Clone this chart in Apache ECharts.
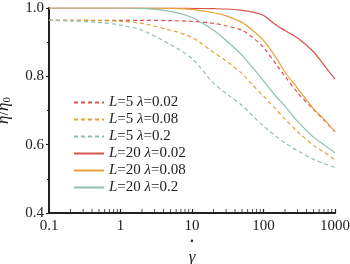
<!DOCTYPE html>
<html>
<head>
<meta charset="utf-8">
<script src="https://cdn.jsdelivr.net/npm/echarts@6/dist/echarts.min.js"></script>
<style>
  html, body { margin: 0; padding: 0; background: #fff; }
  #chart { width: 350px; height: 264px; }
</style>
</head>
<body>
<div id="chart"></div>
<script>
// shear rate values (x)
const shearRates = [0.1, 0.2, 0.5, 1, 2, 5, 10, 20, 30, 50, 70, 100, 150, 200, 300, 500, 700, 1000];

// eta / eta0
const l5lam002 = [0.964, 0.964, 0.964, 0.964, 0.964, 0.963, 0.961, 0.955, 0.948, 0.935, 0.914, 0.885, 0.835, 0.800, 0.752, 0.703, 0.672, 0.638];
const l5lam008 = [0.964, 0.964, 0.963, 0.961, 0.955, 0.935, 0.914, 0.870, 0.845, 0.808, 0.775, 0.742, 0.703, 0.675, 0.638, 0.598, 0.578, 0.556];
const l5lam02 = [0.964, 0.962, 0.958, 0.950, 0.935, 0.893, 0.852, 0.780, 0.750, 0.715, 0.685, 0.655, 0.624, 0.605, 0.582, 0.557, 0.545, 0.533];
const l20lam002 = [1.0, 1.0, 1.0, 1.0, 1.0, 1.0, 0.999, 0.998, 0.997, 0.993, 0.988, 0.978, 0.950, 0.934, 0.912, 0.872, 0.833, 0.792];
const l20lam008 = [1.0, 1.0, 1.0, 1.0, 1.0, 0.999, 0.996, 0.986, 0.977, 0.958, 0.935, 0.905, 0.855, 0.812, 0.765, 0.705, 0.675, 0.638];
const l20lam02 = [1.0, 1.0, 1.0, 1.0, 0.999, 0.990, 0.972, 0.935, 0.905, 0.862, 0.826, 0.787, 0.741, 0.713, 0.668, 0.622, 0.600, 0.576];

// minor log ticks on the x axis
const xMinorTicks = [0.2, 0.3, 0.4, 0.5, 0.6, 0.7, 0.8, 0.9, 2, 3, 4, 5, 6, 7, 8, 9,
  20, 30, 40, 50, 60, 70, 80, 90, 200, 300, 400, 500, 600, 700, 800, 900];
const yMin = 0.4;

const seriesNames = ["L5_002", "L5_008", "L5_02", "L20_002", "L20_008", "L20_02"];
const seriesLabels = {
  L5_002: "{i|L}=5 {i|λ}=0.02",
  L5_008: "{i|L}=5 {i|λ}=0.08",
  L5_02: "{i|L}=5 {i|λ}=0.2",
  L20_002: "{i|L}=20 {i|λ}=0.02",
  L20_008: "{i|L}=20 {i|λ}=0.08",
  L20_02: "{i|L}=20 {i|λ}=0.2",
};

const RED = "#d8534c";
const ORANGE = "#e7a239";
const TEAL = "#8fbfb1";
const FONT = "Liberation Serif";

function pairs(ys) {
  return shearRates.map((x, i) => [x, ys[i]]);
}

function makeSeries(name, ys, color, dashed) {
  return {
    name: name,
    type: "line",
    data: pairs(ys),
    smooth: 0.3,
    symbol: "none",
    lineStyle: {
      color: color,
      width: 1.2,
      type: dashed ? [4, 3] : "solid",
    },
    itemStyle: { color: color },
    animation: false,
  };
}

const chart = echarts.init(document.getElementById("chart"));

chart.setOption({
  animation: false,
  grid: {
    left: 49,
    right: 15,
    top: 8,
    bottom: 51,
    outerBoundsMode: "none",
    containLabel: false,
  },
  legend: {
    data: seriesNames,
    orient: "vertical",
    left: 68,
    top: 90,
    itemWidth: 30,
    itemHeight: 10,
    itemGap: 2,
    itemStyle: { opacity: 0 },
    formatter: (name) => seriesLabels[name],
    textStyle: {
      fontFamily: FONT,
      fontSize: 15,
      color: "#222",
      rich: {
        i: { fontFamily: FONT, fontSize: 15, fontStyle: "italic", color: "#222" },
      },
    },
  },
  xAxis: {
    type: "log",
    logBase: 10,
    min: 0.1,
    max: 1000,
    name: "{d|˙}\n{g|γ}",
    nameLocation: "middle",
    nameGap: 30,
    nameTextStyle: {
      fontFamily: FONT,
      fontSize: 16,
      color: "#222",
      verticalAlign: "top",
      rich: {
        d: { fontFamily: FONT, fontSize: 16, fontWeight: "bold", color: "#222", lineHeight: 7 },
        g: { fontFamily: FONT, fontSize: 17, fontStyle: "italic", color: "#222", lineHeight: 14 },
      },
    },
    axisLine: { onZero: false, lineStyle: { color: "#222", width: 2 } },
    axisTick: { inside: true, length: 4, lineStyle: { color: "#222", width: 1.2 } },
    axisLabel: {
      fontFamily: FONT,
      fontSize: 15,
      color: "#222",
      margin: 6,
      formatter: (v) => String(v),
    },
    splitLine: { show: false },
  },
  yAxis: {
    type: "value",
    min: yMin,
    max: 1.0,
    interval: 0.2,
    name: "{i|η}/{i|η}{s|0}",
    nameLocation: "middle",
    nameGap: 36,
    nameRotate: 90,
    nameTextStyle: {
      fontFamily: FONT,
      fontSize: 16,
      color: "#222",
      rich: {
        i: { fontFamily: FONT, fontSize: 17, fontStyle: "italic", color: "#222" },
        s: { fontFamily: FONT, fontSize: 11, color: "#222", verticalAlign: "bottom", padding: [8, 0, 0, 0] },
      },
    },
    axisLine: { show: true, onZero: false, lineStyle: { color: "#222", width: 2 } },
    axisTick: { show: true, length: 3, lineStyle: { color: "#222", width: 1.2 } },
    minorTick: { show: true, splitNumber: 2, length: 2, lineStyle: { color: "#222", width: 1 } },
    axisLabel: {
      fontFamily: FONT,
      fontSize: 15,
      color: "#222",
      margin: 5,
      formatter: (v) => v.toFixed(1),
    },
    splitLine: { show: false },
  },
  series: [
    makeSeries("L5_002", l5lam002, RED, true),
    makeSeries("L5_008", l5lam008, ORANGE, true),
    makeSeries("L5_02", l5lam02, TEAL, true),
    makeSeries("L20_002", l20lam002, RED, false),
    makeSeries("L20_008", l20lam008, ORANGE, false),
    makeSeries("L20_02", l20lam02, TEAL, false),
    {
      // minor ticks drawn as short marks sitting on the x axis
      name: "minorTicks",
      type: "scatter",
      data: xMinorTicks.map((v) => [v, yMin]),
      symbol: "rect",
      symbolSize: [1, 3],
      symbolOffset: [0, -2.5],
      itemStyle: { color: "#222" },
      silent: true,
      clip: false,
      z: 1,
    },
  ],
});
</script>
</body>
</html>
